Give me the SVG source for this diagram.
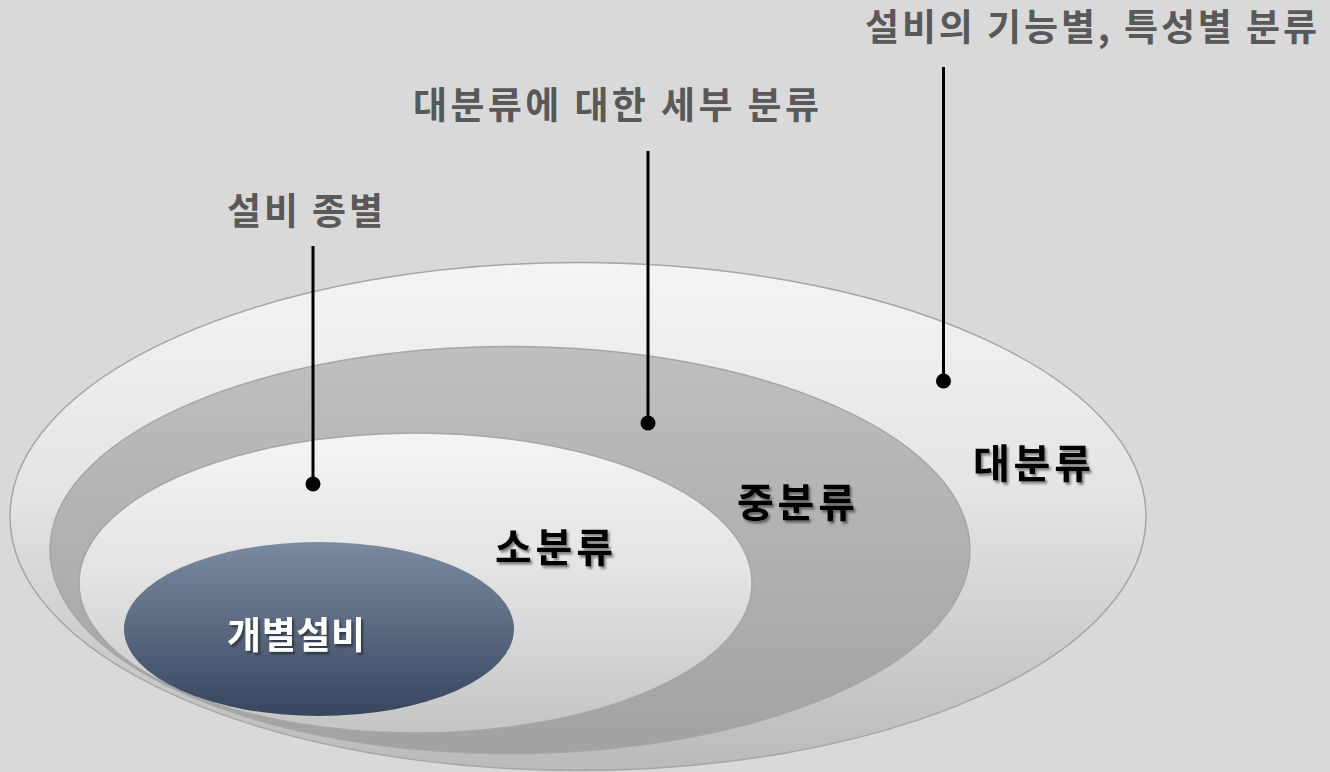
<svg xmlns="http://www.w3.org/2000/svg" width="1330" height="772" viewBox="0 0 1330 772">
<defs>
<style>
.lbl{font-family:"Noto Sans CJK KR","Noto Sans",sans-serif;font-weight:bold;font-size:37px;fill:#595959;text-anchor:middle}
.in{font-family:"Noto Sans CJK KR","Noto Sans",sans-serif;font-weight:bold;font-size:40px;fill:#000;text-anchor:middle;filter:url(#sh)}
.inw{font-family:"Noto Sans CJK KR","Noto Sans",sans-serif;font-weight:bold;font-size:37px;fill:#fff;text-anchor:middle;filter:url(#sh)}
.ring{stroke:#a6a6a6;stroke-width:1.5}
.lead{stroke:#000;stroke-width:3;fill:none}
</style>
<linearGradient id="gOuter" x1="0" y1="0" x2="0" y2="1">
<stop offset="0" stop-color="#f4f4f4"/><stop offset="0.45" stop-color="#e4e4e4"/><stop offset="1" stop-color="#bababa"/>
</linearGradient>
<linearGradient id="gMid" x1="0" y1="0" x2="0" y2="1">
<stop offset="0" stop-color="#bfbfbf"/><stop offset="1" stop-color="#a2a2a2"/>
</linearGradient>
<linearGradient id="gIn" x1="0" y1="0" x2="0" y2="1">
<stop offset="0" stop-color="#f4f4f4"/><stop offset="0.45" stop-color="#e4e4e4"/><stop offset="1" stop-color="#c4c4c4"/>
</linearGradient>
<linearGradient id="gDark" x1="0" y1="0" x2="0" y2="1">
<stop offset="0" stop-color="#7a8ba0"/><stop offset="1" stop-color="#37465f"/>
</linearGradient>
<filter id="sh" x="-10%" y="-20%" width="130%" height="150%">
<feDropShadow dx="2" dy="2.5" stdDeviation="1.3" flood-color="#000" flood-opacity="0.45"/>
</filter>
</defs>
<rect width="1330" height="772" fill="#d9d9d9"/>
<g id="large">
<ellipse class="ring" cx="578" cy="516.5" rx="568" ry="254" fill="url(#gOuter)"/>
<text class="in" x="1032" y="478" textLength="118" lengthAdjust="spacing">대분류</text>
</g>
<g id="medium">
<ellipse class="ring" cx="510" cy="550" rx="460" ry="203.5" fill="url(#gMid)"/>
<text class="in" x="796" y="517" textLength="118" lengthAdjust="spacing">중분류</text>
</g>
<g id="small">
<ellipse class="ring" cx="415.5" cy="583" rx="336.5" ry="150" fill="url(#gIn)"/>
<text class="in" x="554" y="562" textLength="118" lengthAdjust="spacing">소분류</text>
</g>
<g id="individual">
<ellipse cx="319" cy="629" rx="195" ry="87" fill="url(#gDark)"/>
<text class="inw" x="296" y="649" textLength="138" lengthAdjust="spacing">개별설비</text>
</g>
<g id="labels">
<text class="lbl" x="1091" y="41" textLength="452" lengthAdjust="spacing">설비의 기능별, 특성별 분류</text>
<text class="lbl" x="616" y="119" textLength="406" lengthAdjust="spacing">대분류에 대한 세부 분류</text>
<text class="lbl" x="305" y="225" textLength="156" lengthAdjust="spacing">설비 종별</text>
</g>
<g id="connectors">
<line class="lead" x1="943.5" y1="67" x2="943.5" y2="380"/>
<circle cx="943.5" cy="381" r="7.5"/>
<line class="lead" x1="648" y1="151" x2="648" y2="422"/>
<circle cx="648" cy="423" r="7.5"/>
<line class="lead" x1="313" y1="246" x2="313" y2="483"/>
<circle cx="313" cy="484" r="7.5"/>
</g>
</svg>
